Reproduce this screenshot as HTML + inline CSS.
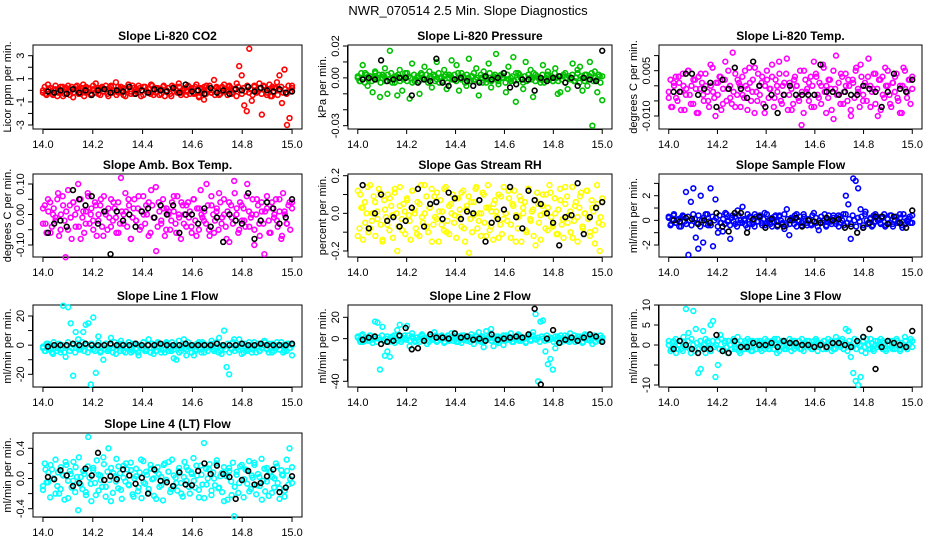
<!DOCTYPE html>
<html><head><meta charset="utf-8"><style>
html,body{margin:0;padding:0;background:#fff;width:936px;height:540px;overflow:hidden}
svg{display:block;font-family:"Liberation Sans",sans-serif}
</style></head><body>
<svg id="chart" width="936" height="540" viewBox="0 0 936 540" xmlns="http://www.w3.org/2000/svg">
<rect width="936" height="540" fill="#fff"/>
<text x="468" y="15" text-anchor="middle" font-size="13">NWR_070514  2.5 Min. Slope Diagnostics</text>
</svg>
<script>
// x-axis
const xTicks = [14.0, 14.2, 14.4, 14.6, 14.8, 15.0];
const xTickLabels = ["14.0", "14.2", "14.4", "14.6", "14.8", "15.0"];
const xMin = 14.0, xMax = 15.0;
const blackStart = 14.02;

const titles = ["Slope Li-820 CO2","Slope Li-820 Pressure","Slope Li-820 Temp.","Slope Amb. Box Temp.","Slope Gas Stream RH","Slope Sample Flow","Slope Line 1 Flow","Slope Line 2 Flow","Slope Line 3 Flow","Slope Line 4 (LT) Flow"];
const yTitles = ["Licor ppm per min.","kPa per min.","degrees C per min.","degrees C per min.","percent per min.","ml/min per min.","ml/min per min.","ml/min per min.","ml/min per min.","ml/min per min."];
const colors = ["#ff0000","#00c000","#ff00ff","#ff00ff","#ffff00","#0000ff","#00ffff","#00ffff","#00ffff","#00ffff"];

const yTicks = [[3,2,1,0,-1,-2,-3],[20,10,0,-10,-20,-30],[10,5,0,-5,-10],[10,5,0,-5,-10],[20,10,0,-10,-20],[30,20,10,0,-10,-20],[20,10,0,-10,-20],[20,0,-20,-40],[10,5,0,-5,-10],[40,20,0,-20,-40]];
const yLabelVals = [[3,1,-1,-3],[20,0,-30],[5,-10],[10,0,-10],[20,0,-20],[20,0,-20],[20,0,-20],[20,0,-40],[10,5,0,-10],[40,0,-40]];
const yLabelText = [["3","1","-1","-3"],["0.02","0.00","-0.03"],["0.005","-0.010"],["0.10","0.00","-0.10"],["0.2","0.0","-0.2"],["2","0","-2"],["20","0","-20"],["20","0","-40"],["10","5","0","-10"],["0.4","0.0","-0.4"]];

// Colored-series values
const s1 = [0.0,-0.3,0.5,0.2,-0.4,0.1,-0.2,0.3,-0.5,0.2,0.4,-0.1,-0.6,0.3,0.1,-0.3,0.5,-0.2,0.2,-0.4,0.1,0.6,-0.3,0.2,-0.1,0.4,-0.5,0.3,0.0,0.7,-0.2,0.3,-0.4,0.1,0.5,-0.3,0.2,-0.1,0.4,-0.5,0.3,0.0,-0.2,0.5,-0.4,0.2,0.1,-0.3,0.4,-0.1,0.2,-0.5,0.3,0.0,0.6,-0.2,0.1,-0.4,0.3,0.2,-0.3,0.5,-0.6,0.1,-0.8,0.4,0.0,-0.2,0.9,0.3,-0.4,0.2,0.5,-0.1,0.3,-0.3,0.1,0.6,2.1,1.3,-1.3,-1.8,3.6,-0.9,0.4,-0.2,0.6,-2.1,0.3,-0.4,0.5,-0.5,0.2,0.7,1.3,-1.1,1.8,-3.0,-2.4,0.4];
const s2 = [0,-2,8,3,-5,1,-9,4,0,-12,2,6,-10,17,-3,1,-11,5,-8,0,3,-13,9,-2,0,-10,2,7,-1,4,-6,1,10,-3,0,5,-7,2,11,-1,8,-8,3,0,-5,12,1,-2,6,-11,0,4,-3,9,-6,1,15,-4,2,0,-9,7,-2,13,-15,3,0,-7,10,-1,5,-12,2,0,-3,8,-1,4,0,-2,6,-10,-9,1,3,-7,0,9,-2,5,7,-8,2,-5,10,-30,4,-9,1,-14];
const s3 = [-2,-7,1,-4,3,-8,0,-3,5,-6,2,-1,-9,4,-3,0,-5,7,-2,-10,1,3,-6,8,-1,-4,11,-7,2,0,-3,5,-8,1,-2,6,-5,0,3,-9,2,-1,7,-4,0,4,-6,1,9,-3,-8,2,0,-5,-13,5,-2,1,-7,8,3,-4,0,6,-9,2,-1,-11,10,-3,4,-6,0,2,-8,1,5,-2,7,-5,0,3,-7,-1,4,-10,2,-3,6,0,-6,1,3,-4,-9,0,5,-2,2,-1];
const s4 = [2,-3,5,-6,0,-2,7,-5,3,-14,8,-1,4,-4,10,-8,1,-3,6,0,-5,3,-2,5,-7,0,2,-4,4,-1,-6,12,-3,1,5,-8,2,-2,6,-4,0,3,-7,8,-1,-12,4,-3,2,-5,1,-2,6,-6,0,4,-3,3,-1,-4,5,-7,2,0,-2,10,-5,3,-6,1,7,-3,0,-8,4,-1,11,2,-5,3,-2,6,-4,0,-10,5,-3,1,-13,2,-6,4,0,-2,5,-7,1,-3,4,2];
const s5 = [-12,10,3,-5,14,-8,0,6,-3,11,-14,2,-6,8,-1,13,-20,4,-9,1,7,-4,12,0,-11,5,-2,15,-7,3,-15,9,-3,1,-6,13,-10,4,0,-5,8,-2,11,-8,2,-21,6,-1,14,-4,0,10,-12,3,-7,5,1,-13,9,-3,0,12,-6,4,-15,-2,7,0,-9,13,-4,2,-17,5,-1,10,-8,3,11,-6,0,-11,7,-3,14,-5,1,-13,4,-2,9,-7,0,12,-10,3,-16,5,-20,-6];
const s6 = [2,-3,4,-2,1,-5,3,23,-28,15,26,-14,-23,20,-18,5,-4,26,-21,17,-10,-2,-9,6,-1,-15,4,-3,8,-2,11,0,-6,3,-3,5,-1,2,-4,6,-2,0,-5,3,-1,4,-3,-7,9,-12,1,-3,5,0,-4,3,-2,1,-4,6,-2,-8,3,0,-5,4,-1,2,-3,4,-2,5,20,13,-15,34,32,26,9,-6,7,-3,2,-4,5,0,-2,3,-5,1,4,-3,0,-2,5,-6,2,-1,3,-2];
const s7 = [-2,-4,1,-3,-6,0,-2,-5,27,-8,26,15,-21,9,4,-3,9,14,15,-27,19,-19,6,-4,-10,1,-3,5,-2,-6,0,3,-4,-1,2,-5,1,-3,-7,0,2,-4,4,-2,-6,0,1,-5,-3,2,-1,-4,-9,-10,3,-2,4,-7,-1,0,-7,-3,2,-5,1,-2,0,3,-4,-1,5,-6,10,-15,-20,-3,4,-2,4,-6,1,-3,0,-5,2,-1,-4,0,3,-2,1,-5,-1,2,-3,0,-4,1,-2,-7];
const s8 = [1,-3,4,-2,0,3,-4,16,15,-29,11,-16,-12,-17,2,-4,8,13,-1,3,12,-7,5,-2,1,-3,4,0,-5,2,-1,6,-3,0,3,-4,1,-2,5,0,-3,2,-4,3,0,-1,4,-5,2,6,-3,-8,7,0,9,-7,2,-4,1,-6,3,-1,5,-3,0,4,-2,1,-4,3,-1,6,23,-40,16,17,-12,-24,-19,-29,-9,2,-4,0,3,-2,5,-1,-3,2,0,-4,4,-1,2,-5,3,0,-2,1];
const s9 = [0,-1,1,-2,0,-1,2,9,3,-2,8.5,4,-7,-6,3.5,-2,1,5,6,-8,-5,2.5,-1,1,-2,0,1,-1,2,-2,0,1,-1,1,-1.5,0,1,-1,0.5,-1,1,-1,0,1.5,-2,0,1,-1,0.5,-0.5,1,-1,0,1,-1,0.5,0,1,-1,0,1,-0.5,0,1,-1,0.5,1,-1,2,0,1,-1,4,3.5,-3,-7,-9,-10,-8,2,-2,0,1.5,-1,0,1,-0.5,1,-1,0,1,-1,0.5,1,-1,0,2,-1,0.5,1];
const s10 = [-10,12,-5,18,0,-20,8,-14,4,22,-26,6,-3,15,-42,2,10,-18,55,-7,14,-22,5,-2,28,-11,40,-30,7,-4,16,-15,1,20,-8,11,-24,3,-12,25,-5,9,-19,13,0,-27,6,-9,18,-2,22,-14,4,-6,10,-20,2,15,-11,8,-3,17,-25,5,47,-8,12,-16,0,20,-12,7,-30,3,14,-22,-50,9,-6,18,-1,11,-17,4,21,-9,2,-28,13,-4,8,-19,0,16,-13,5,-24,10,40,-6];

// Dense-band colored values
const d1 = [-0.2,0.3,-0.4,0.1,0.2,-0.3,0.0,0.4,-0.5,0.1,-0.1,0.3,-0.3,0.2,0.0,-0.4,0.3,-0.2,0.1,0.4,-0.3,0.0,0.2,-0.5,0.3,-0.1,0.1,-0.3,0.4,-0.2,0.0,0.2,-0.4,0.3,-0.1,0.1,-0.3,0.2,0.4,-0.2,0.0,-0.4,0.3,0.1,-0.2,0.2,-0.5,0.0,0.3,-0.1,0.4,-0.3,0.1,-0.2,0.2,0.0,-0.4,0.3,-0.1,0.1,-0.3,0.4,0.0,-0.2,0.2,-0.4,0.1,0.3,-0.5,0.0,0.2,-0.3,0.4,-0.1,0.1,-0.2,0.3,-0.4,0.0,0.2,-0.1,0.4,-0.3,0.1,-0.2,0.3,0.0,-0.5,0.2,-0.1,0.3,-0.3,0.1,0.4,-0.2,0.0,-0.4,0.2,0.1,-0.3,0.3,-0.1,0.0,-0.4,0.4,0.2,-0.2,0.1,-0.5,0.3,0.0,-0.3,0.2,-0.1,0.4,-0.2,0.1,-0.4,0.3,0.0,-0.1,0.2,-0.3,0.4,0.0,-0.2,0.1,-0.5,0.3,-0.1,0.2,-0.4,0.0,0.3,-0.2,0.1,-0.3,0.4,-0.1,0.2];
const d2 = [1,-2,3,0,-3,2,-1,1,-2,0,3,-1,2,-3,0,1,-2,2,-1,3,0,-3,1,2,-2,0,-1,3,-2,1,0,-3,2,-1,1,-2,3,0,-1,2,-3,1,0,2,-2,-1,3,0,-2,1,2,-3,0,1,-1,2,-2,3,0,-1,1,-3,2,0,-2,1,3,-1,0,-2,2,-3,1,0,-1,3,-2,0,2,-1,-2,1,0,3,-3,2,-1,0,1,-2,3,-1,2,0,-3,1,-2,2,0,-1,3,-2,1,0,-1,2,-3,0,2,-1,1,-2,3,0,-2,1,-1,2,-3,0,1,-1,2,-2,0,3,-3,1,0,-2,2,-1,1,3,-2,0,-1,2,-3,1];
const d3 = [-4,2,-7,0,3,-5,1,-2,4,-8,-1,5,-3,0,-6,2,-9,3,-1,1,-5,4,-2,-7,0,6,-4,1,-3,3,-8,-1,2,-5,5,0,-6,-2,4,-3,1,-7,3,-4,0,-1,6,-5,2,-9,-2,4,-3,1,-6,0,5,-4,-1,3,-7,2,-2,8,-5,0,-3,4,-8,1,-1,-6,3,0,-4,5,-2,-9,2,-1,-5,3,0,-7,4,-3,1,-6,7,-2,0,-4,2,-8,5,-1,-3,1,-6,3,-2,4,-5,0,-10,2,-4,6,-1,-7,3,-3,1,-5,9,0,-2,4,-6,-1,2,-8,3,-4,0,5,-3,-7,1,-2,4,-5,0,-9,6,-1,-4,2,-6,3];
const d4 = [-3,3,-6,1,4,-4,2,-1,5,-7,0,6,-2,1,-5,3,-8,4,0,2,-4,5,-1,-6,1,7,-3,2,-2,4,-7,0,3,-4,6,1,-5,-1,5,-2,2,-6,4,-3,1,0,7,-4,3,-8,-1,5,-2,2,-5,1,6,-3,0,4,-6,3,-1,9,-4,1,-2,5,-7,2,0,-5,4,1,-3,6,-1,-8,3,0,-4,4,1,-6,5,-2,2,-5,8,-1,1,-3,3,-7,6,0,-2,2,-5,4,-1,5,-4,1,-9,3,-3,7,0,-6,4,-2,2,-4,10,1,-1,5,-5,0,3,-7,4,-3,1,6,-2,-6,2,-1,5,-4,1,-8,7,0,-3,3,-5,4];
const d5 = [12,-8,3,-14,6,0,-10,15,-4,9,-12,1,13,-6,-15,7,-2,10,-9,4,-13,11,0,-7,14,-3,5,-11,8,-1,-14,12,2,-8,6,-12,15,-5,0,9,-10,3,13,-6,-2,11,-15,7,1,-9,14,-4,-11,5,10,-1,-13,8,2,-7,12,-15,4,9,-3,-10,6,13,-8,0,-12,11,-5,3,15,-9,1,-14,7,-2,10,-6,-11,14,0,-4,8,-13,5,12,-1,-8,9,-15,3,6,-10,13,-3,1,-12,7,11,-5,-14,4,0,10,-9,15,-2,-7,8,-11,2,13,-6,-13,5,9,-1,-10,14,-4,6,-15,3,11,-8,0,12,-3,-12,7,1,-9,15,-5,-2,8];
const d6 = [3,-4,1,5,-2,0,-5,2,4,-1,-3,3,0,-4,5,1,-2,4,-5,0,2,-3,5,-1,-4,3,0,2,-5,4,-2,1,-3,5,0,-4,2,-1,3,-5,4,0,-2,1,-4,5,-3,2,0,-5,3,-1,4,-2,1,-4,5,0,-3,2,-1,4,-5,3,0,-2,5,-4,1,-3,2,0,4,-5,-1,3,-2,5,0,-4,1,-3,4,-1,2,-5,0,3,-2,5,-4,1,0,-3,4,-1,2,-5,3,0,-4,5,-2,1,-3,4,0,-5,2,-1,3,-4,5,0,-2,1,-5,4,-1,3,0,-3,2,5,-4,1,-2,4,-5,0,3,-1,2,-4,5,-3,0,1,-2,4];
const d7 = [-1,-4,1,-3,0,-5,2,-2,-4,1,-3,0,-5,-1,2,-4,-2,0,-5,1,-3,-1,2,-4,0,-5,-2,1,-3,-4,0,2,-5,-1,-3,1,-4,-2,0,-5,2,-3,-1,-4,1,0,-5,-2,2,-3,-4,0,1,-5,-1,-2,2,-4,-3,0,-5,1,-2,-4,2,-1,-3,0,-5,1,-4,-2,2,-3,-1,0,-5,-4,1,-2,-3,2,0,-5,-1,-4,1,-2,-3,2,-5,0,-4,-1,1,-3,-2,2,-5,-4,0,-1,-3,1,-5,-2,2,-4,0,-3,-1,1,-5,-2,-4,2,0,-3,-1,-5,1,-4,-2,0,2,-3,-5,-1,1,-4,-2,0,-3,2,-5,-1,-4,1,-2,0];
const d8 = [2,-1,3,-3,0,1,-2,3,-1,2,0,-3,1,-1,3,-2,0,2,-3,1,-1,3,0,-2,2,-3,1,0,-1,3,-2,2,0,-3,1,-1,2,3,-2,0,1,-3,2,-1,0,3,-2,1,-1,2,-3,0,3,-1,1,-2,2,0,-3,1,3,-1,0,-2,2,-3,1,-1,3,0,-2,1,2,-3,0,-1,3,-2,1,0,-3,2,-1,1,3,-2,0,2,-1,-3,1,0,3,-2,2,-1,0,-3,1,2,-2,3,0,-1,1,-3,2,0,-2,3,-1,1,0,-3,2,-2,1,3,-1,0,-2,2,-3,1,-1,3,0,-2,2,1,-3,0,3,-1,-2,1,2,-3,0,-1,3,-2];
const d9 = [1,-1.5,0.5,-0.5,1.5,-1,0,1,-1.5,0.5,-0.5,1,-1,1.5,0,-1.5,0.5,-1,1,-0.5,0,1.5,-1,0.5,-1.5,1,-0.5,0,1,-1,1.5,-1.5,0.5,-0.5,1,0,-1,1.5,-0.5,0.5,-1.5,1,0,-1,0.5,1.5,-0.5,-1.5,1,0,-1,0.5,1,-1.5,0,1.5,-0.5,-1,0.5,1,-1,0,1.5,-1.5,0.5,-0.5,1,-1,0,1.5,-1.5,0.5,1,-0.5,0,-1,1.5,-1.5,0.5,1,-0.5,0,-1,1,1.5,-1.5,0,0.5,-1,1,-0.5,1.5,0,-1.5,0.5,-1,1,0,-0.5,1.5,-1,0.5,-1.5,1,0,-0.5,1.5,-1,0.5,0,-1.5,1,-0.5,1.5,0,-1,0.5,-1.5,1,-0.5,0,1.5,-1,0.5,-1.5,1,0,-0.5,1,-1,1.5,0,-1.5,0.5,-0.5,1,-1,0,1.5,-0.5];
const d10 = [-15,20,-5,8,-25,12,0,25,-10,-20,15,5,-28,18,-3,10,-12,22,-18,2,28,-8,-14,6,-22,16,1,-30,11,-6,24,-16,4,-11,19,-24,9,-2,14,-19,3,26,-13,7,-27,17,-4,12,-9,21,-21,0,13,-17,8,-26,23,-7,5,-14,18,-1,-23,10,15,-11,2,-29,20,-5,9,-18,25,-10,1,-16,14,-6,-24,22,-3,11,-20,6,27,-12,4,-15,17,-8,-26,13,0,19,-22,8,-9,24,-13,3,-18,15,7,-28,10,-4,21,-11,5,-19,16,-2,-25,12,-7,23,-14,1,18,-21,6,-10,26,-3,-17,14,-23,9,2,-12,20,-6,-27,11,4,-16,25,-8,-1,15];

// Black-series values
const b1 = [-0.1,-0.2,0.0,-0.3,0.1,-0.2,0.0,-0.4,0.0,0.1,-0.2,0.0,-0.1,0.3,-0.3,0.0,-0.2,0.1,0.0,-0.1,0.2,-0.2,0.5,-0.1,0.0,-0.3,0.2,-0.2,0.0,-0.3,0.1,0.0,0.3,-0.1,0.2,0.0,-0.1,0.1,-0.2,-0.1];
const b2 = [-1,0,-1,11,-2,-1,0,0,-11,-3,-1,-2,12,-3,-5,-1,0,-2,-5,-3,1,-1,0,3,-6,-4,-1,-1,-8,0,-2,0,1,-3,0,-5,0,-1,-2,17];
const b3 = [-2,-2,4,4,-3,-1,1,-7,2,-1,6,-1,-4,8,0,-7,-3,-9,-3,0,-3,-3,-3,-3,7,-2,-2,-3,-2,-3,-3,0,-1,-2,-7,-2,4,-1,-2,2];
const b4 = [-6,-3,-2,-4,8,5,3,6,-3,1,-13,1,-2,0,-4,1,2,-1,3,0,3,-6,0,0,-3,2,-4,-1,-9,0,-2,-3,7,-8,-2,4,2,-3,-1,5];
const b5 = [15,-8,0,10,-4,-2,-7,-4,3,13,-7,5,6,-3,11,8,-3,1,0,7,-15,-5,-3,2,14,-2,-8,12,7,5,0,-5,-17,-2,-1,16,-11,-2,3,6];
const b6 = [0,-1,2,1,-3,0,-2,6,-5,-9,6,6,-10,1,3,-6,1,-4,-5,0,2,-5,0,-1,-2,2,0,1,-6,-5,-10,-6,-2,3,3,-3,3,-2,-6,8];
const b7 = [-1,0,0,0,1,0,1,0,0,0,1,0,0,0,1,0,0,0,1,0,0,0,1,0,0,0,0,1,0,0,0,1,0,0,1,0,0,0,0,1];
const b8 = [-1,1,2,-5,-3,-2,3,10,-10,-9,-2,4,1,1,0,5,1,2,-1,0,-2,4,-1,0,1,2,1,4,28,-43,0,8,-4,-1,1,-2,1,4,2,-3];
const b9 = [-1,1,0,-1,-2,-1,-1,2.5,-1.5,-2,1,-0.5,-0.5,0.5,0,0,0.5,-0.5,1,0.5,0.5,0,0,-0.5,0,-0.5,0.5,0.5,0,-0.5,1,2,4,-6,-0.5,1,0.5,0,-0.5,3.5];
const b10 = [2,-1,11,4,-10,-6,13,4,34,-2,3,-1,12,4,-7,1,-20,12,-3,-5,-10,8,-8,-9,10,20,6,17,6,2,-27,-2,10,-8,-6,3,12,-18,-12,3];

const colSeries = [s1,s2,s3,s4,s5,s6,s7,s8,s9,s10];
const bandSeries = [d1,d2,d3,d4,d5,d6,d7,d8,d9,d10];
const blkSeries = [b1,b2,b3,b4,b5,b6,b7,b8,b9,b10];

const colBoxes = [[33,302],[348,612],[659,922]];
const rowBoxes = [[45,129],[174,257],[305,387],[433,517]];
const yAnchors = [[3,55.7,-3,125],[20,46,-30,125.7],[5,70.7,-10,116],[10,184,-10,245],[20,175.7,-20,251],[20,195.7,-20,245],[20,316,-20,374.3],[20,317.3,-40,381.3],[10,305,-10,385],[40,448.3,-40,508.7]];

const svg = document.getElementById('chart');
const NS = 'http://www.w3.org/2000/svg';
function mk(tag, attrs, parent){
  const e = document.createElementNS(NS, tag);
  for (const k in attrs) e.setAttribute(k, attrs[k]);
  (parent||svg).appendChild(e);
  return e;
}

for (let p = 0; p < 10; p++) {
  const [L, R] = colBoxes[p % 3];
  const [T, B] = rowBoxes[Math.floor(p / 3)];
  const w = R - L;
  const pad = w * 0.04 / 1.08;
  const xs = v => L + pad + (v - xMin) / (xMax - xMin) * (w - 2 * pad);
  const [va, pa, vb, pb] = yAnchors[p];
  const ys = v => pa + (v - va) * (pb - pa) / (vb - va);

  const g = mk('g', {});
  
  

  const box = mk('rect', {x: L, y: T, width: w, height: B - T, fill: 'none', stroke: '#000', 'stroke-width': 1}, g);
  
  

  const t = mk('text', {x: (L + R) / 2, y: T - 5, 'text-anchor': 'middle', 'font-size': 12, 'font-weight': 'bold'}, g);
  t.textContent = titles[p];
  
  

  const xa = mk('g', {}, g);
  
  
  mk('line', {x1: xs(xTicks[0]), x2: xs(xTicks[xTicks.length - 1]), y1: B + 0.5, y2: B + 0.5, stroke: '#000'}, xa);
  xTicks.forEach((v, i) => {
    mk('line', {x1: xs(v), x2: xs(v), y1: B, y2: B + 5, stroke: '#000'}, xa);
    const tl = mk('text', {x: xs(v), y: B + 19, 'text-anchor': 'middle', 'font-size': 11}, xa);
    tl.textContent = xTickLabels[i];
    
    
  });

  const ya = mk('g', {}, g);
  
  
  const yt = yTicks[p];
  mk('line', {x1: L - 0.5, x2: L - 0.5, y1: ys(yt[0]), y2: ys(yt[yt.length - 1]), stroke: '#000'}, ya);
  yt.forEach(v => mk('line', {x1: L - 5, x2: L, y1: ys(v), y2: ys(v), stroke: '#000'}, ya));
  yLabelVals[p].forEach((v, i) => {
    const x = L - 9, y = ys(v);
    const tl = mk('text', {x: x, y: y, 'text-anchor': 'middle', 'font-size': 11, transform: `rotate(-90 ${x} ${y})`}, ya);
    tl.textContent = yLabelText[p][i];
    
    
  });
  const tx = L - 22, ty = (T + B) / 2;
  const ytl = mk('text', {x: tx, y: ty, 'text-anchor': 'middle', 'font-size': 11, transform: `rotate(-90 ${tx} ${ty})`}, g);
  ytl.textContent = yTitles[p];
  
  

  const cg = mk('g', {fill: 'none', stroke: colors[p], 'stroke-width': 1.6}, g);
  
  
  const ds = bandSeries[p];
  ds.forEach((v, i) => {
    const c = mk('circle', {cx: xs(xMin + i / (ds.length - 1) * (xMax - xMin)), cy: ys(v), r: 2.4}, cg);
    
    
  });
  const cs = colSeries[p];
  cs.forEach((v, i) => {
    const c = mk('circle', {cx: xs(xMin + i / (cs.length - 1) * (xMax - xMin)), cy: ys(v), r: 2.4}, cg);
    
    
  });
  const bg = mk('g', {fill: 'none', stroke: '#000', 'stroke-width': 1.6}, g);
  
  
  const bs = blkSeries[p];
  bs.forEach((v, i) => {
    const c = mk('circle', {cx: xs(blackStart + i / (bs.length - 1) * (xMax - blackStart)), cy: ys(v), r: 2.4}, bg);
    
    
  });
}
</script>
</body></html>
